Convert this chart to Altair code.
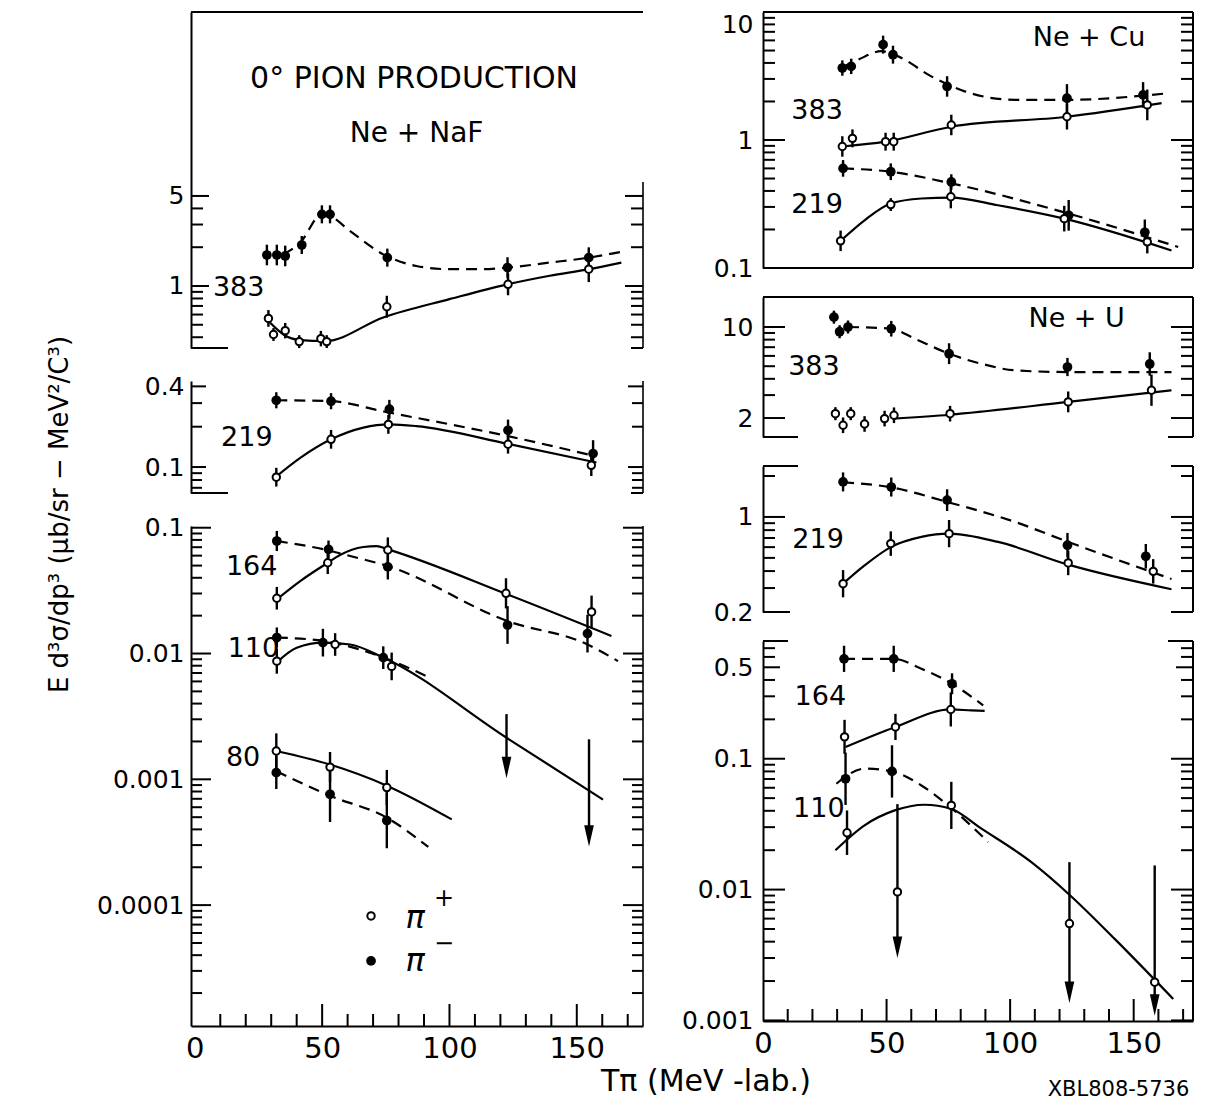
import altair as alt
import pandas as pd

FONT = "DejaVu Sans"
INK = "black"
U = alt.Undefined

# ---------------- shared axis values ----------------
X_LABELS = [0, 50, 100, 150]
X_MAJOR = [50, 100, 150]
X_MINOR = [10, 20, 30, 40, 60, 70, 80, 90, 110, 120, 130, 140, 160, 170]

# ================= Ne + NaF =================
# 383 MeV/A
NAF383_PLUS_T = [28.9, 30.9, 35.5, 41.0, 49.5, 51.8, 75.4, 123.0, 154.7]
NAF383_PLUS_V = [0.56, 0.42, 0.45, 0.37, 0.39, 0.37, 0.69, 1.03, 1.35]
NAF383_PLUS_E = [0.065, 0.05, 0.06, 0.05, 0.06, 0.05, 0.085, 0.085, 0.1]
NAF383_MINUS_T = [28.3, 32.2, 35.5, 42.0, 49.9, 53.1, 75.6, 122.8, 154.7]
NAF383_MINUS_V = [1.74, 1.74, 1.71, 2.08, 3.6, 3.6, 1.66, 1.39, 1.66]
NAF383_MINUS_E = [0.08, 0.08, 0.08, 0.07, 0.07, 0.07, 0.07, 0.08, 0.08]
NAF383_DASH_T = [34.8, 41.4, 49.9, 53.1, 61, 74, 87, 100, 113, 122.8, 139.4, 154.7, 168]
NAF383_DASH_V = [1.76, 2.17, 3.6, 3.49, 2.67, 1.76, 1.43, 1.35, 1.35, 1.39, 1.52, 1.66, 1.85]
NAF383_SOLID_T = [29.5, 34.8, 41.4, 51.2, 74, 100, 122.8, 139.4, 154.7, 167.5]
NAF383_SOLID_V = [0.52, 0.42, 0.38, 0.374, 0.57, 0.79, 1.03, 1.2, 1.35, 1.52]

# 219 MeV/A
NAF219_MINUS_T = [32, 53.5, 76.4, 123, 156.4]
NAF219_MINUS_V = [0.315, 0.31, 0.27, 0.188, 0.126]
NAF219_MINUS_E = [0.06, 0.06, 0.07, 0.08, 0.1]
NAF219_PLUS_T = [32, 53.5, 76, 123, 155.7]
NAF219_PLUS_V = [0.084, 0.161, 0.208, 0.148, 0.103]
NAF219_PLUS_E = [0.07, 0.07, 0.07, 0.07, 0.08]
NAF219_DASH_T = [32, 53.5, 74, 123, 157]
NAF219_DASH_V = [0.315, 0.31, 0.26, 0.17, 0.121]
NAF219_SOLID_T = [32, 41.4, 53.5, 66.2, 76.4, 87, 123, 157.7]
NAF219_SOLID_V = [0.085, 0.117, 0.161, 0.197, 0.208, 0.202, 0.149, 0.108]

# 164 MeV/A
NAF164_MINUS_T = [32.2, 52.5, 75.8, 122.8, 154.2]
NAF164_MINUS_V = [0.0784, 0.0673, 0.0488, 0.01686, 0.0144]
NAF164_MINUS_E = [0.08, 0.07, 0.1, 0.15, 0.15]
NAF164_PLUS_T = [32.2, 52.2, 75.8, 122.2, 155.8]
NAF164_PLUS_V = [0.0275, 0.0527, 0.0665, 0.0301, 0.0214]
NAF164_PLUS_E = [0.09, 0.09, 0.1, 0.12, 0.13]
NAF164_DASH_T = [32.2, 52.5, 61, 75.8, 122.8, 154.2, 166.2]
NAF164_DASH_V = [0.0784, 0.066, 0.0596, 0.0496, 0.0181, 0.0118, 0.0087]
NAF164_SOLID_T = [32.2, 41.4, 52.2, 57, 66.2, 71.4, 75.8, 122.8, 163.6]
NAF164_SOLID_V = [0.027, 0.0377, 0.0527, 0.0607, 0.0703, 0.0715, 0.0673, 0.0295, 0.0138]

# 110 MeV/A
NAF110_MINUS_T = [32.2, 50.3, 74]
NAF110_MINUS_V = [0.0134, 0.0122, 0.00927]
NAF110_MINUS_E = [0.08, 0.11, 0.09]
NAF110_PLUS_T = [32.2, 55.1, 77.3]
NAF110_PLUS_V = [0.0087, 0.0118, 0.0079]
NAF110_PLUS_E = [0.1, 0.09, 0.11]
NAF110_LIM_T = [122.4, 154.8]
NAF110_LIM_TOP = [0.0033, 0.00208]
NAF110_LIM_HEAD = [0.00124, 0.000355]
NAF110_DASH_T = [32.2, 50.3, 74, 91.7]
NAF110_DASH_V = [0.0134, 0.0126, 0.0093, 0.0065]
NAF110_SOLID_T = [32.2, 40, 50.5, 61, 74, 122.4, 160.3]
NAF110_SOLID_V = [0.0085, 0.0111, 0.0122, 0.0118, 0.0093, 0.00214, 0.00069]

# 80 MeV/A
NAF80_PLUS_T = [32, 53.1, 75.4]
NAF80_PLUS_V = [0.00168, 0.00125, 0.00086]
NAF80_PLUS_E = [0.14, 0.12, 0.14]
NAF80_MINUS_T = [32, 53.1, 75.4]
NAF80_MINUS_V = [0.00113, 0.00076, 0.00047]
NAF80_MINUS_E = [0.13, 0.22, 0.22]
NAF80_SOLID_T = [32, 53.1, 75.4, 100.9]
NAF80_SOLID_V = [0.00168, 0.00131, 0.00089, 0.00048]
NAF80_DASH_T = [32, 53.1, 75.4, 91.7]
NAF80_DASH_V = [0.00116, 0.00074, 0.000495, 0.00029]

# ================= Ne + Cu =================
CU383_MINUS_T = [32.1, 35.7, 48.6, 52.6, 74.5, 123, 153.8]
CU383_MINUS_V = [3.65, 3.76, 5.56, 4.64, 2.62, 2.12, 2.25]
CU383_MINUS_E = [0.06, 0.06, 0.07, 0.07, 0.08, 0.11, 0.1]
CU383_PLUS_T = [32.1, 36.2, 49.6, 52.9, 76.2, 123, 155.5]
CU383_PLUS_V = [0.89, 1.03, 0.97, 0.97, 1.31, 1.52, 1.88]
CU383_PLUS_E = [0.08, 0.07, 0.07, 0.07, 0.08, 0.1, 0.12]
CU383_DASH_T = [32.1, 38.5, 47.9, 54.7, 68.1, 81.6, 101.9, 123, 164]
CU383_DASH_V = [3.7, 4.24, 4.94, 4.5, 3.14, 2.4, 2.06, 2.06, 2.32]
CU383_SOLID_T = [32.1, 49.6, 76.2, 123, 161.3]
CU383_SOLID_V = [0.89, 0.97, 1.27, 1.52, 1.94]

CU219_MINUS_T = [32.4, 51.7, 76.2, 123.7, 154.5]
CU219_MINUS_V = [0.6, 0.565, 0.47, 0.258, 0.19]
CU219_MINUS_E = [0.065, 0.065, 0.06, 0.12, 0.1]
CU219_PLUS_T = [31.4, 51.7, 76, 121.9, 155.5]
CU219_PLUS_V = [0.163, 0.313, 0.36, 0.243, 0.16]
CU219_PLUS_E = [0.08, 0.05, 0.09, 0.1, 0.09]
CU219_DASH_T = [32.4, 51.7, 76.2, 123.7, 168]
CU219_DASH_V = [0.6, 0.565, 0.458, 0.266, 0.146]
CU219_SOLID_T = [31.4, 41.1, 51.7, 64.1, 76, 95.1, 121.9, 165.3]
CU219_SOLID_V = [0.163, 0.236, 0.319, 0.349, 0.355, 0.309, 0.243, 0.137]

# ================= Ne + U =================
U383_MINUS_T = [28.7, 31, 34.4, 51.9, 75.3, 123.2, 156.5]
U383_MINUS_V = [11.9, 9.2, 10, 9.7, 6.24, 4.93, 5.2]
U383_MINUS_E = [0.05, 0.05, 0.05, 0.06, 0.08, 0.07, 0.09]
U383_PLUS_T = [29.3, 32.4, 35.5, 41.1, 49.2, 53, 75.7, 123.5, 157.2]
U383_PLUS_V = [2.16, 1.76, 2.16, 1.8, 1.98, 2.1, 2.16, 2.66, 3.27]
U383_PLUS_E = [0.05, 0.06, 0.05, 0.06, 0.06, 0.06, 0.06, 0.08, 0.12]
U383_DASH_T = [34.4, 51.9, 61.4, 75.3, 88.4, 101.9, 123.2, 165.3]
U383_DASH_V = [10, 9.7, 8.13, 6.24, 5.22, 4.65, 4.51, 4.51]
U383_SOLID_T = [53, 75.7, 123.5, 165.3]
U383_SOLID_V = [1.98, 2.12, 2.66, 3.27]

U219_MINUS_T = [32.4, 51.9, 74.5, 123.2, 154.9]
U219_MINUS_V = [1.81, 1.66, 1.33, 0.62, 0.514]
U219_MINUS_E = [0.07, 0.07, 0.08, 0.09, 0.09]
U219_PLUS_T = [32.4, 51.7, 75.3, 123.5, 157.9]
U219_PLUS_V = [0.323, 0.637, 0.754, 0.459, 0.398]
U219_PLUS_E = [0.1, 0.09, 0.1, 0.09, 0.09]
U219_DASH_T = [32.4, 51.9, 74.5, 101.9, 123.5, 165.3]
U219_DASH_V = [1.8, 1.65, 1.29, 0.92, 0.655, 0.35]
U219_SOLID_T = [32.4, 41.1, 51.7, 64.1, 75.3, 95.1, 123.5, 165.3]
U219_SOLID_V = [0.323, 0.44, 0.6, 0.713, 0.754, 0.655, 0.446, 0.294]

U164_MINUS_T = [32.8, 52.9, 76.5]
U164_MINUS_V = [0.58, 0.58, 0.374]
U164_MINUS_E = [0.1, 0.1, 0.08]
U164_PLUS_T = [33, 53.6, 76]
U164_PLUS_V = [0.147, 0.175, 0.238]
U164_PLUS_E = [0.13, 0.1, 0.13]
U164_DASH_T = [32.8, 52.9, 64.1, 76.5, 89.1]
U164_DASH_V = [0.58, 0.58, 0.487, 0.374, 0.256]
U164_SOLID_T = [33.4, 53.6, 76, 84.3, 89.7]
U164_SOLID_V = [0.123, 0.175, 0.238, 0.234, 0.232]

U110_MINUS_T = [33.4, 52.2]
U110_MINUS_V = [0.0703, 0.08]
U110_MINUS_E = [0.2, 0.2]
U110_PLUS_T = [34, 76.2]
U110_PLUS_V = [0.0272, 0.044]
U110_PLUS_E = [0.17, 0.18]
U110_LIM_T = [54.4, 124, 158.5]
U110_LIM_V = [0.0096, 0.0055, 0.00196]
U110_LIM_TOP = [0.045, 0.0162, 0.0153]
U110_LIM_HEAD = [0.00363, 0.00164, 0.00131]
U110_DASH_T = [29.7, 41.1, 52.2, 64.1, 74.9, 91.1]
U110_DASH_V = [0.0644, 0.084, 0.08, 0.0625, 0.044, 0.0231]
U110_SOLID_T = [29.3, 41.1, 53.3, 65.4, 76, 88.4, 108.6, 124.1, 142.3, 166]
U110_SOLID_V = [0.02, 0.031, 0.0403, 0.0445, 0.0415, 0.0292, 0.0162, 0.0091, 0.0042, 0.00146]

# ---------------- layout (scale domains / sizes) ----------------
LX_DOM = [-1.5, 176]
RX_DOM = [0, 174]
LW, RW = 452, 430

ARROW = "M-0.45,-1L0.45,-1L0,1Z"


def xs(dom):
    return alt.Scale(domain=dom, nice=False, zero=False)


def ys(dom):
    return alt.Scale(type="log", domain=dom, nice=False)


def decades(lo_exp, hi_exp):
    out = []
    for e in range(lo_exp, hi_exp):
        out += [k * 10.0 ** e for k in range(2, 10)]
    return out


class Panel:
    """Collects the layers of one panel that share an x and a log-y scale."""

    def __init__(self, w, h, xdom, ydom, has_xaxis):
        self.w, self.h, self.xdom, self.ydom = w, h, xdom, ydom
        self.xa = U if has_xaxis else None
        self.layers = []

    def X(self, f):
        return alt.X(f"{f}:Q", scale=xs(self.xdom), axis=self.xa)

    def Y(self, f, axis=U):
        return alt.Y(f"{f}:Q", scale=ys(self.ydom), axis=axis)

    def ticks(self, vals, length, side, axis=U, sw=2):
        df = pd.DataFrame({"v": list(vals)})
        x0, x1 = (0, length) if side == "left" else (self.w - length, self.w)
        self.layers.append(alt.Chart(df).mark_rule(color=INK, strokeWidth=sw).encode(
            x=alt.value(x0), x2=alt.value(x1), y=self.Y("v", axis)))

    def ticks_both(self, major, minor, ax, maj_len, min_len):
        self.ticks(major, maj_len, "left", ax)
        self.ticks(minor, min_len, "left")
        self.ticks(major, maj_len, "right")
        self.ticks(minor, min_len, "right")

    def seg(self, x0, x1, y0, y1, sw=2):
        self.layers.append(alt.Chart(pd.DataFrame({"k": [0]})).mark_rule(
            color=INK, strokeWidth=sw).encode(
            x=alt.value(x0), x2=alt.value(x1), y=alt.value(y0), y2=alt.value(y1)))

    def xaxis(self, major_len, minor_len, **title_kw):
        kw = dict(values=X_LABELS, format="d", ticks=False, domain=True, domainColor=INK,
                  domainWidth=2, labelFont=FONT, labelFontSize=29, labelColor=INK,
                  labelPadding=8, grid=False, labelFlush=False, labelOverlap=False, title=None)
        kw.update(title_kw)
        ax = alt.Axis(**kw)
        self.layers.append(alt.Chart(pd.DataFrame({"t": X_MAJOR})).mark_rule(
            color=INK, strokeWidth=2).encode(
            x=alt.X("t:Q", scale=xs(self.xdom), axis=ax),
            y=alt.value(self.h), y2=alt.value(self.h - major_len)))
        self.layers.append(alt.Chart(pd.DataFrame({"t": X_MINOR})).mark_rule(
            color=INK, strokeWidth=2).encode(
            x=self.X("t"), y=alt.value(self.h), y2=alt.value(self.h - minor_len)))

    def curve(self, T, v, dashed):
        kw = dict(color=INK, strokeWidth=2.2, interpolate="monotone", clip=True)
        if dashed:
            kw["strokeDash"] = [11, 7]
        self.layers.append(alt.Chart(pd.DataFrame({"T": T, "v": v})).mark_line(**kw).encode(
            x=self.X("T"), y=self.Y("v")))

    def points(self, T, v, e, filled, bars=True):
        lo = [a / 10 ** b for a, b in zip(v, e)]
        hi = [a * 10 ** b for a, b in zip(v, e)]
        df = pd.DataFrame({"T": T, "v": v, "lo": lo, "hi": hi})
        if bars:
            self.layers.append(alt.Chart(df).mark_rule(color=INK, strokeWidth=2.4).encode(
                x=self.X("T"), y=self.Y("lo"), y2="hi:Q"))
        if filled:
            mk = alt.Chart(df).mark_point(shape="circle", filled=True, color=INK, size=95, opacity=1)
        else:
            mk = alt.Chart(df).mark_point(shape="circle", filled=True, fill="white", stroke=INK,
                                          strokeWidth=2, size=55, opacity=1)
        self.layers.append(mk.encode(x=self.X("T"), y=self.Y("v")))

    def limits(self, T, top, head, v=None):
        df = pd.DataFrame({"T": T, "top": top, "head": head})
        self.layers.append(alt.Chart(df).mark_rule(color=INK, strokeWidth=2.4).encode(
            x=self.X("T"), y=self.Y("top"), y2="head:Q"))
        self.layers.append(alt.Chart(df).mark_point(shape=ARROW, filled=True, color=INK,
                                                    size=460, opacity=1).encode(
            x=self.X("T"), y=self.Y("head")))
        if v is not None:
            self.points(T, v, [0] * len(v), False, bars=False)

    def label(self, text, T, v, size=27, align="center", style="normal"):
        df = pd.DataFrame({"T": [T], "v": [v], "s": [text]})
        self.layers.append(alt.Chart(df).mark_text(
            font=FONT, fontSize=size, align=align, baseline="middle", color=INK,
            fontStyle=style).encode(x=self.X("T"), y=self.Y("v"), text="s:N"))

    def chart(self):
        return alt.layer(*self.layers).properties(width=self.w, height=self.h)


def yaxis(values, pad, **extra):
    kw = dict(values=values, format="~g", ticks=False, domain=True, domainColor=INK,
              domainWidth=2, labelFont=FONT, labelFontSize=25, labelColor=INK,
              labelPadding=pad, grid=False, title=None, labelOverlap=False,
              labelFlush=False)
    kw.update(extra)
    return alt.Axis(**kw)


# ======================= LEFT COLUMN (Ne + NaF) =======================
p = Panel(LW, 336, LX_DOM, [0.330, 134], False)
p.ticks_both([1, 5], [0.4, 0.5, 0.6, 0.7, 0.8, 0.9, 2, 3, 4], yaxis([1, 5], 7), 18, 12)
p.seg(0, LW, 0, 0); p.seg(LW, LW, 170, p.h, 1.6)
p.seg(0, 37, p.h, p.h); p.seg(LW - 12, LW, p.h, p.h)
p.curve(NAF383_DASH_T, NAF383_DASH_V, True)
p.curve(NAF383_SOLID_T, NAF383_SOLID_V, False)
p.points(NAF383_MINUS_T, NAF383_MINUS_V, NAF383_MINUS_E, True)
p.points(NAF383_PLUS_T, NAF383_PLUS_V, NAF383_PLUS_E, False)
p.label("0° PION PRODUCTION", 86.1, 40.5, size=30)
p.label("Ne + NaF", 87.1, 15.1, size=28)
p.label("383", 7.1, 0.96, align="left")
P1 = p.chart()

p = Panel(LW, 112, LX_DOM, [0.064, 0.4387], False)
p.ticks_both([0.1, 0.4], [0.07, 0.08, 0.09, 0.2, 0.3], yaxis([0.1, 0.4], 7), 15, 11)
p.seg(LW, LW, 0, p.h, 1.6); p.seg(0, 37, p.h, p.h); p.seg(LW - 12, LW, p.h, p.h)
p.curve(NAF219_DASH_T, NAF219_DASH_V, True)
p.curve(NAF219_SOLID_T, NAF219_SOLID_V, False)
p.points(NAF219_MINUS_T, NAF219_MINUS_V, NAF219_MINUS_E, True)
p.points(NAF219_PLUS_T, NAF219_PLUS_V, NAF219_PLUS_E, False)
p.label("219", 10.3, 0.165, align="left")
P2 = p.chart()

YTITLE = "E d³σ/dp³  (μb/sr − MeV²/C³)"
p = Panel(LW, 500, LX_DOM, [1.094e-5, 0.1032], True)
p.ticks_both([0.0001, 0.001, 0.01, 0.1], decades(-5, -1),
             yaxis([0.0001, 0.001, 0.01, 0.1], 7, title=YTITLE, titleAngle=270, titleX=-132,
                   titleY=-12, titleAlign="center", titleBaseline="middle", titleFont=FONT,
                   titleFontSize=26, titleFontWeight="normal", titleColor=INK), 20, 11)
p.seg(LW, LW, 0, p.h, 1.6)
p.xaxis(22, 12)
p.curve(NAF164_DASH_T, NAF164_DASH_V, True)
p.curve(NAF164_SOLID_T, NAF164_SOLID_V, False)
p.curve(NAF110_DASH_T, NAF110_DASH_V, True)
p.curve(NAF110_SOLID_T, NAF110_SOLID_V, False)
p.curve(NAF80_DASH_T, NAF80_DASH_V, True)
p.curve(NAF80_SOLID_T, NAF80_SOLID_V, False)
p.points(NAF164_MINUS_T, NAF164_MINUS_V, NAF164_MINUS_E, True)
p.points(NAF164_PLUS_T, NAF164_PLUS_V, NAF164_PLUS_E, False)
p.points(NAF110_MINUS_T, NAF110_MINUS_V, NAF110_MINUS_E, True)
p.points(NAF110_PLUS_T, NAF110_PLUS_V, NAF110_PLUS_E, False)
p.limits(NAF110_LIM_T, NAF110_LIM_TOP, NAF110_LIM_HEAD)
p.points(NAF80_MINUS_T, NAF80_MINUS_V, NAF80_MINUS_E, True)
p.points(NAF80_PLUS_T, NAF80_PLUS_V, NAF80_PLUS_E, False)
p.label("164", 12.2, 0.0488, align="left")
p.label("110", 12.9, 0.0108, align="left")
p.label("80", 12.2, 0.00149, align="left")
# legend
p.points([69.2], [8.2e-5], [0], False, bars=False)
p.points([69.2], [3.6e-5], [0], True, bars=False)
p.label("π", 86.5, 7.9e-5, size=32, style="italic")
p.label("+", 97.9, 1.12e-4, size=24)
p.label("π", 86.5, 3.6e-5, size=32, style="italic")
p.label("−", 97.9, 4.9e-5, size=24)
P3 = p.chart()

left = alt.vconcat(P1, P2, P3, spacing=33, bounds="flush")

# ======================= RIGHT COLUMN (Ne + Cu, Ne + U) =======================
p = Panel(RW, 256, RX_DOM, [0.1, 10], False)
p.ticks_both([0.1, 1, 10], decades(-1, 1),
             yaxis([0.1, 1, 10], 10, labelBaseline={"condition": {"test": "datum.value >= 9.9", "value": "top"}, "value": "middle"}),
             22, 12)
p.seg(0, RW, 0, 0); p.seg(RW, RW, 0, p.h); p.seg(0, RW, p.h, p.h)
p.curve(CU383_DASH_T, CU383_DASH_V, True)
p.curve(CU383_SOLID_T, CU383_SOLID_V, False)
p.curve(CU219_DASH_T, CU219_DASH_V, True)
p.curve(CU219_SOLID_T, CU219_SOLID_V, False)
p.points(CU383_MINUS_T, CU383_MINUS_V, CU383_MINUS_E, True)
p.points(CU383_PLUS_T, CU383_PLUS_V, CU383_PLUS_E, False)
p.points(CU219_MINUS_T, CU219_MINUS_V, CU219_MINUS_E, True)
p.points(CU219_PLUS_T, CU219_PLUS_V, CU219_PLUS_E, False)
p.label("Ne + Cu", 131.9, 6.28)
p.label("383", 21.9, 1.67)
p.label("219", 21.9, 0.309)
R1 = p.chart()

p = Panel(RW, 140, RX_DOM, [1.43, 17.0], False)
p.ticks_both([2, 10], [3, 4, 5, 6, 7, 8, 9], yaxis([2, 10], 10), 22, 12)
p.seg(0, RW, 0, 0); p.seg(RW, RW, 0, p.h)
p.seg(0, 35, p.h, p.h); p.seg(RW - 25, RW, p.h, p.h)
p.curve(U383_DASH_T, U383_DASH_V, True)
p.curve(U383_SOLID_T, U383_SOLID_V, False)
p.points(U383_MINUS_T, U383_MINUS_V, U383_MINUS_E, True)
p.points(U383_PLUS_T, U383_PLUS_V, U383_PLUS_E, False)
p.label("Ne + U", 126.9, 11.6)
p.label("383", 20.6, 4.93)
R2 = p.chart()

p = Panel(RW, 146, RX_DOM, [0.2, 2.37], False)
p.ticks_both([0.2, 1], [0.3, 0.4, 0.5, 0.6, 0.7, 0.8, 0.9, 2], yaxis([0.2, 1], 10), 22, 12)
p.seg(RW, RW, 0, p.h); p.seg(0, 35, 0, 0); p.seg(RW - 22, RW, 0, 0)
p.seg(0, 27, p.h, p.h); p.seg(RW - 22, RW, p.h, p.h)
p.curve(U219_DASH_T, U219_DASH_V, True)
p.curve(U219_SOLID_T, U219_SOLID_V, False)
p.points(U219_MINUS_T, U219_MINUS_V, U219_MINUS_E, True)
p.points(U219_PLUS_T, U219_PLUS_V, U219_PLUS_E, False)
p.label("219", 22.3, 0.674)
R3 = p.chart()

p = Panel(RW, 380, RX_DOM, [0.00099, 0.794], True)
r4_minor = [m for m in decades(-3, 0) if m < 0.79 and m != 0.5]
p.ticks_both([0.001, 0.01, 0.1], r4_minor, yaxis([0.001, 0.01, 0.1, 0.5], 10), 22, 12)
p.ticks([0.5], 17, "left"); p.ticks([0.5], 17, "right")
p.seg(RW, RW, 0, p.h); p.seg(0, 25, 0, 0); p.seg(RW - 25, RW, 0, 0)
p.xaxis(22, 12, title="XBL808-5736", titleX=355, titleY=68, titleAlign="center",
        titleBaseline="middle", titleFont=FONT, titleFontSize=21,
        titleFontWeight="normal", titleColor=INK)
p.curve(U164_DASH_T, U164_DASH_V, True)
p.curve(U164_SOLID_T, U164_SOLID_V, False)
p.curve(U110_DASH_T, U110_DASH_V, True)
p.curve(U110_SOLID_T, U110_SOLID_V, False)
p.points(U164_MINUS_T, U164_MINUS_V, U164_MINUS_E, True)
p.points(U164_PLUS_T, U164_PLUS_V, U164_PLUS_E, False)
p.points(U110_MINUS_T, U110_MINUS_V, U110_MINUS_E, True)
p.points(U110_PLUS_T, U110_PLUS_V, U110_PLUS_E, False)
p.limits(U110_LIM_T, U110_LIM_TOP, U110_LIM_HEAD, v=U110_LIM_V)
p.label("164", 23.2, 0.296)
p.label("110", 22.6, 0.0415)
R4 = p.chart()

right = alt.vconcat(R1, R2, R3, R4, spacing=29, bounds="flush")

chart = alt.hconcat(left, right, spacing=37).properties(
    title=alt.TitleParams(text="Tπ  (MeV -lab.)", orient="bottom", anchor="start",
                          dx=555, dy=-36, font=FONT, fontSize=30, fontWeight="normal",
                          color=INK),
    padding={"left": 37, "top": 3, "right": 5, "bottom": 2},
    background="white",
).configure_view(stroke=None)

chart.save("out.html", embed_options={"renderer": "svg", "actions": False})
